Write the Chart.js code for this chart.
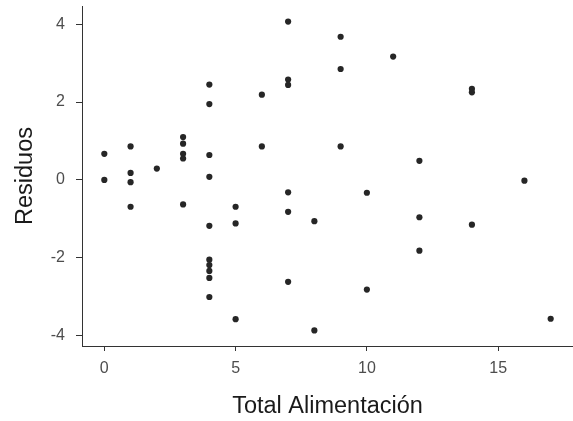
<!DOCTYPE html>
<html>
<head>
<meta charset="utf-8">
<script src="https://cdn.jsdelivr.net/npm/chart.js@4"></script>
<style>
  html, body { margin: 0; padding: 0; background: #fff; }
  #wrap { width: 573px; height: 421px; }
</style>
</head>
<body>
<div id="wrap"><canvas id="residuos-chart" width="573" height="421"></canvas></div>
<script>
// valores
const totalAlimentacion = [
  0, 0,
  1, 1, 1, 1,
  2,
  3, 3, 3, 3, 3,
  4, 4, 4, 4, 4, 4, 4, 4, 4, 4,
  5, 5, 5,
  6, 6,
  7, 7, 7, 7, 7, 7,
  8, 8,
  9, 9, 9,
  10, 10,
  11,
  12, 12, 12,
  14, 14, 14,
  16,
  17
];
const residuos = [
  0.67, 0.0,
  0.86, 0.18, -0.06, -0.69,
  0.29,
  1.10, 0.93, 0.67, 0.55, -0.63,
  2.45, 1.95, 0.64, 0.08, -1.18, -2.05, -2.19, -2.34, -2.52, -3.01,
  -0.69, -1.12, -3.58,
  2.19, 0.86,
  4.07, 2.58, 2.44, -0.32, -0.82, -2.62,
  -1.06, -3.87,
  3.68, 2.85, 0.86,
  -0.33, -2.82,
  3.17,
  0.49, -0.96, -1.82,
  2.34, 2.25, -1.15,
  -0.02,
  -3.57
];
const xTicks = [0, 5, 10, 15];
const yTicks = [-4, -2, 0, 2, 4];

const points = totalAlimentacion.map((x, i) => ({ x: x, y: residuos[i] }));

const fontFamily = '"Liberation Sans", Arial, Helvetica, sans-serif';
const axisColor = '#333333';

new Chart(document.getElementById('residuos-chart'), {
  type: 'scatter',
  data: {
    datasets: [{
      data: points,
      backgroundColor: '#262626',
      borderWidth: 0,
      pointRadius: 3.1
    }]
  },
  options: {
    responsive: false,
    animation: false,
    layout: { autoPadding: false, padding: { top: 6, right: 0, left: 0, bottom: 0 } },
    plugins: { legend: { display: false }, tooltip: { enabled: false } },
    scales: {
      x: {
        type: 'linear',
        min: -0.85,
        max: 17.85,
        afterBuildTicks: (scale) => { scale.ticks = xTicks.map(v => ({ value: v })); },
        afterFit: (scale) => {
          scale.height = 75;
          scale.paddingLeft = 0;
          scale.paddingRight = 0;
        },
        grid: { drawOnChartArea: false, drawTicks: true, tickLength: 5, color: axisColor, tickWidth: 1 },
        border: { display: true, color: axisColor, width: 1 },
        ticks: { color: '#4d4d4d', font: { family: fontFamily, size: 16 }, padding: 8, maxRotation: 0 },
        title: { display: true, text: 'Total Alimentación', color: '#1a1a1a',
                 font: { family: fontFamily, size: 23.5 }, padding: { top: 0, bottom: 0 } }
      },
      y: {
        type: 'linear',
        min: -4.27,
        max: 4.47,
        afterBuildTicks: (scale) => { scale.ticks = yTicks.map(v => ({ value: v })); },
        afterFit: (scale) => {
          scale.width = 82;
          scale.paddingTop = 0;
          scale.paddingBottom = 0;
        },
        grid: { drawOnChartArea: false, drawTicks: true, tickLength: 6, color: axisColor, tickWidth: 1 },
        border: { display: true, color: axisColor, width: 1 },
        ticks: { color: '#4d4d4d', font: { family: fontFamily, size: 16 }, padding: 11 },
        title: { display: true, text: 'Residuos', color: '#1a1a1a',
                 font: { family: fontFamily, size: 23.5 }, padding: { top: 11, bottom: 0 } }
      }
    }
  }
});
</script>
</body>
</html>
